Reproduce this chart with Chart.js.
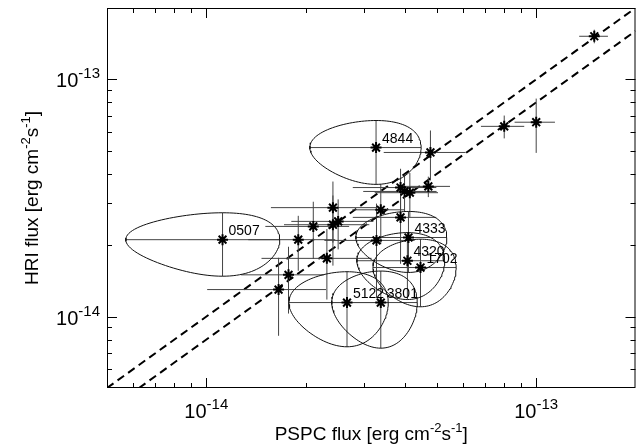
<!DOCTYPE html>
<html>
<head>
<meta charset="utf-8">
<title>HRI vs PSPC flux</title>
<script src="https://cdn.jsdelivr.net/npm/chart.js@4.4.1/dist/chart.umd.min.js"></script>
<style>
  html, body { margin: 0; padding: 0; background: #fff; }
  #wrap { width: 643px; height: 446px; }
</style>
</head>
<body>
<div id="wrap"><canvas id="fluxChart" width="643" height="446"></canvas></div>
<script>
'use strict';

// fluxes in erg cm^-2 s^-1
var pspcFlux = [1.50e-13, 8.0e-14, 1.00e-13, 3.27e-14, 4.78e-14, 3.88e-14, 3.99e-14, 4.14e-14, 4.71e-14,
  3.38e-14, 3.88e-14, 2.42e-14, 2.51e-14, 2.42e-14, 2.11e-14, 1.90e-14, 2.32e-14, 1.775e-14, 1.656e-14,
  3.28e-14, 1.12e-14, 4.10e-14, 4.07e-14, 4.46e-14, 2.67e-14, 3.38e-14];
var pspcErr = [1.5e-14, 1.2e-14, 1.4e-14, 1.21e-14, 1.33e-14, 1.1e-14, 1.0e-14, 0.9e-14, 0.77e-14,
  0.61e-14, 1.1e-14, 0.85e-14, 0.7e-14, 0.7e-14, 0.6e-14, 0.56e-14, 0.85e-14, 0.5e-14, 0.65e-14,
  1.0e-14, 0.55e-14, 1.26e-14, 1.21e-14, 1.26e-14, 0.89e-14, 0.98e-14];
var hriFlux = [1.52e-13, 6.34e-14, 6.6e-14, 5.16e-14, 4.92e-14, 3.50e-14, 3.37e-14, 3.33e-14, 3.54e-14,
  2.82e-14, 2.62e-14, 2.88e-14, 2.52e-14, 2.44e-14, 2.40e-14, 2.11e-14, 1.76e-14, 1.50e-14, 1.30e-14,
  2.095e-14, 2.11e-14, 2.155e-14, 1.72e-14, 1.61e-14, 1.146e-14, 1.146e-14];
var hriErr = [1.0e-14, 0.7e-14, 1.7e-14, 1.55e-14, 1.17e-14, 0.7e-14, 0.6e-14, 0.7e-14, 0.35e-14,
  0.8e-14, 0.95e-14, 0.83e-14, 0.6e-14, 0.8e-14, 0.65e-14, 0.55e-14, 0.58e-14, 0.47e-14, 0.47e-14,
  0.9e-14, 0.63e-14, 0.62e-14, 0.54e-14, 0.51e-14, 0.40e-14, 0.41e-14];
var sourceNames = ['', '', '', '4844', '', '', '', '', '',
  '', '', '', '', '', '', '', '', '', '',
  '', '0507', '4333', '4320', '1702', '5122', '3801'];

var axisMin = 5e-15;
var axisMax = 2e-13;
var tickValues = [1e-14, 1e-13];
var tickExp = ['-14', '-13'];
var lineRatios = [1, 0.8]; // HRI = ratio * PSPC

var fontName = '"Liberation Sans", Arial, Helvetica, sans-serif';

// build the drawing data from the arrays above
var starPoints = [];
var barPoints = [];
var ellipsePoints = [];
for (var i = 0; i < pspcFlux.length; i++) {
  var x = pspcFlux[i], y = hriFlux[i], dx = pspcErr[i], dy = hriErr[i];
  starPoints.push({x: x, y: y});
  if (sourceNames[i]) {
    // error ellipse, the bars run out to its edge
    for (var k = 0; k <= 120; k++) {
      var t = 2 * Math.PI * k / 120;
      ellipsePoints.push({x: x + dx * Math.cos(t), y: y + dy * Math.sin(t)});
    }
    ellipsePoints.push({x: x, y: null});
  }
  barPoints.push({x: x - dx, y: y}, {x: x + dx, y: y}, {x: x, y: null});
  barPoints.push({x: x, y: y - dy}, {x: x, y: y + dy}, {x: x, y: null});
}

function ratioLine(r) {
  var x0 = Math.max(axisMin, axisMin / r);
  var x1 = Math.min(axisMax, axisMax / r);
  return [{x: x0, y: x0 * r}, {x: x1, y: x1 * r}];
}

// text with superscript pieces: parts = [[text, isSup], ...]
function partsWidth(ctx, parts, size, supSize) {
  var w = 0;
  parts.forEach(function(p) {
    ctx.font = (p[1] ? supSize : size) + 'px ' + fontName;
    w += ctx.measureText(p[0]).width;
  });
  return w;
}

function drawParts(ctx, parts, x, y, size, supSize, rise) {
  parts.forEach(function(p) {
    ctx.font = (p[1] ? supSize : size) + 'px ' + fontName;
    ctx.fillText(p[0], x, p[1] ? y - rise : y);
    x += ctx.measureText(p[0]).width;
  });
}

var framePlugin = {
  id: 'frameAndText',
  afterDraw: function(chart) {
    var ctx = chart.ctx;
    var a = chart.chartArea;
    var xs = chart.scales.x, ys = chart.scales.y;
    ctx.save();
    ctx.strokeStyle = '#000';
    ctx.fillStyle = '#000';
    ctx.lineWidth = 1;
    ctx.strokeRect(a.left + 0.5, a.top + 0.5, a.right - a.left - 1, a.bottom - a.top - 1);

    // inward log ticks on all four sides
    ctx.beginPath();
    for (var d = 1e-15; d < axisMax; d *= 10) {
      for (var m = 1; m <= 9; m++) {
        var v = m * d;
        if (v < axisMin * 1.0001 || v > axisMax * 0.9999) continue;
        var len = m === 1 ? 10 : 5;
        var px = Math.round(xs.getPixelForValue(v)) + 0.5;
        ctx.moveTo(px, a.bottom); ctx.lineTo(px, a.bottom - len);
        ctx.moveTo(px, a.top); ctx.lineTo(px, a.top + len);
        var py = Math.round(ys.getPixelForValue(v)) + 0.5;
        ctx.moveTo(a.left, py); ctx.lineTo(a.left + len, py);
        ctx.moveTo(a.right, py); ctx.lineTo(a.right - len, py);
      }
    }
    ctx.stroke();

    // tick labels 10^n
    ctx.textBaseline = 'alphabetic';
    ctx.textAlign = 'left';
    tickValues.forEach(function(v, i) {
      var parts = [['10', false], [tickExp[i], true]];
      var w = partsWidth(ctx, parts, 20, 15);
      var px = xs.getPixelForValue(v);
      drawParts(ctx, parts, px - w / 2, a.bottom + 30, 20, 15, 9);
      var py = ys.getPixelForValue(v);
      drawParts(ctx, parts, a.left - 7 - w, py + 8, 20, 15, 9);
    });

    // axis titles
    var xt = [['PSPC flux [erg cm', false], ['-2', true], ['s', false], ['-1', true], [']', false]];
    var w1 = partsWidth(ctx, xt, 19, 13);
    drawParts(ctx, xt, (a.left + a.right) / 2 - w1 / 2, 440, 19, 13, 8);
    var yt = [['HRI flux [erg cm', false], ['-2', true], ['s', false], ['-1', true], [']', false]];
    var w2 = partsWidth(ctx, yt, 19, 13);
    ctx.save();
    ctx.translate(38, (a.top + a.bottom) / 2);
    ctx.rotate(-Math.PI / 2);
    drawParts(ctx, yt, -w2 / 2, 0, 19, 13, 8);
    ctx.restore();

    // source names next to their stars
    ctx.font = '14px ' + fontName;
    for (var j = 0; j < sourceNames.length; j++) {
      if (!sourceNames[j]) continue;
      ctx.fillText(sourceNames[j], xs.getPixelForValue(pspcFlux[j]) + 6, ys.getPixelForValue(hriFlux[j]) - 5);
    }
    ctx.restore();
  }
};

var myChart = new Chart(document.getElementById('fluxChart').getContext('2d'), {
  type: 'scatter',
  data: {
    datasets: [{
      label: 'sources',
      data: starPoints,
      pointStyle: 'star',
      pointRadius: 5.5,
      borderWidth: 2,
      borderColor: '#000',
      backgroundColor: '#000'
    }, {
      label: 'error ellipses',
      data: ellipsePoints,
      showLine: true,
      spanGaps: false,
      pointRadius: 0,
      borderWidth: 1,
      borderColor: '#111'
    }, {
      label: 'error bars',
      data: barPoints,
      showLine: true,
      spanGaps: false,
      pointRadius: 0,
      borderWidth: 1,
      borderColor: '#444'
    }, {
      label: 'HRI = PSPC',
      data: ratioLine(lineRatios[0]),
      showLine: true,
      pointRadius: 0,
      borderWidth: 2,
      borderDash: [8, 5],
      borderColor: '#000'
    }, {
      label: 'HRI = 0.8 PSPC',
      data: ratioLine(lineRatios[1]),
      showLine: true,
      pointRadius: 0,
      borderWidth: 2,
      borderDash: [8, 5],
      borderColor: '#000'
    }]
  },
  options: {
    responsive: false,
    devicePixelRatio: 1,
    animation: false,
    layout: { padding: { left: 107, top: 8, right: 2, bottom: 58 } },
    plugins: { legend: { display: false }, tooltip: { enabled: false } },
    scales: {
      x: { type: 'logarithmic', min: axisMin, max: axisMax, display: false },
      y: { type: 'logarithmic', min: axisMin, max: axisMax, display: false }
    }
  },
  plugins: [framePlugin]
});
</script>
</body>
</html>
